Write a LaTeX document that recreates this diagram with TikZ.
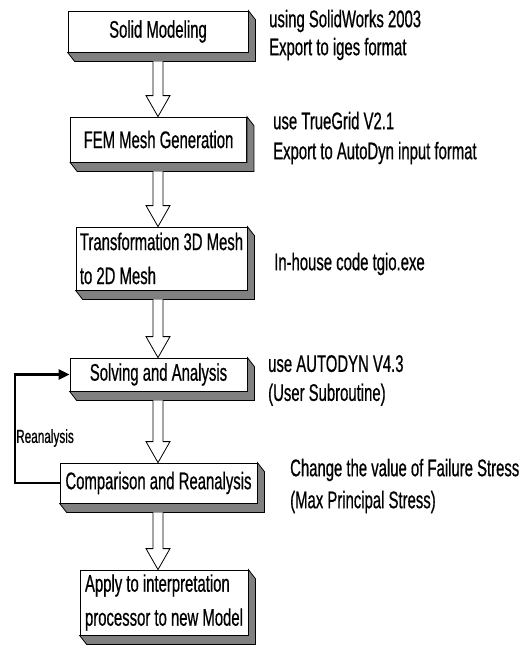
\documentclass[tikz,border=0pt]{standalone}
\usepackage{fontspec}
\setmainfont{Liberation Sans}[FakeStretch=0.62,FakeBold=0.6]
\usetikzlibrary{calc,arrows.meta}

% extruded side and bottom faces of a stage box
\newcommand\drawdepth[1]{%
  \draw[depthface] (#1.south west) -- (#1.south east) -- (#1.north east)
    -- ++(7,9) -- ($(#1.south east)+(7,9)$) -- ($(#1.south west)+(7,9)$) -- cycle;}

% hollow block arrow from the bottom of one stage to the top of the next
\newcommand\flowarrow[2]{%
  \draw[hollowarrow] let \p1=($(#1.south)+(0,9)$), \p2=(#2.north -| axis) in
    (\x2-5pt,\y1) -- (\x2-5pt,\y2+21pt) -- (\x2-12pt,\y2+21pt) -- (\x2,\y2)
    -- (\x2+12pt,\y2+21pt) -- (\x2+5pt,\y2+21pt) -- (\x2+5pt,\y1);}

\begin{document}
\begin{tikzpicture}[x=1pt,y=-1pt,
  stage/.style={draw=black, line width=0.8pt, fill=white, inner sep=0pt,
    align=left, font=\fontsize{24}{34}\selectfont},
  depthface/.style={draw=black, line width=0.8pt, fill=black!50, line join=miter},
  hollowarrow/.style={draw=black, line width=0.8pt, fill=white},
  note/.style={anchor=west, inner sep=0pt, align=left},
  feedback/.style={draw=black, line width=2.2pt, -{Triangle[length=11pt,width=10pt]}},
]
\useasboundingbox (0,0) rectangle (529,645);
\fill[white] (0,0) rectangle (529,645);

\coordinate (axis) at (158,0);

% stages
\node[stage, minimum width=180pt, minimum height=41pt] (b1) at (158,31.5) {Solid Modeling};
\node[stage, minimum width=176pt, minimum height=45pt] (b2) at (158.5,139.5) {FEM Mesh Generation};
\node[stage, minimum width=171pt, minimum height=63pt] (b3) at (161.5,258.5) {Transformation 3D Mesh\\to 2D Mesh};
\node[stage, minimum width=177pt, minimum height=33pt] (b4) at (158.5,374.5) {Solving and Analysis};
\node[stage, minimum width=197pt, minimum height=40pt] (b5) at (158.5,483) {Comparison and Reanalysis};
\node[stage, minimum width=168pt, minimum height=65pt] (b6) at (164,602.5) {Apply to interpretation\\processor to new Model};

\foreach \b in {b1,b2,b3,b4,b5,b6} {\drawdepth{\b}}

% flow between stages
\flowarrow{b1}{b2}
\flowarrow{b2}{b3}
\flowarrow{b3}{b4}
\flowarrow{b4}{b5}
\flowarrow{b5}{b6}

% feedback loop
\coordinate (loopx) at (15,430);
\draw[feedback] (b5.west) -| (loopx) |- (b4.west);
\node[anchor=west, inner sep=0pt, font=\fontsize{19}{22}\selectfont] (relabel) at (16,438) {Reanalysis};

% side notes
\node[note, font=\fontsize{24}{28}\selectfont] (n1) at (269,35) {using SolidWorks 2003\\Export to iges format};
\node[note, font=\fontsize{24}{30}\selectfont] (n2) at (273,138) {use TrueGrid V2.1\\Export to AutoDyn input format};
\node[note, font=\fontsize{24}{29}\selectfont] (n3) at (274,264) {In-house code tgio.exe};
\node[note, font=\fontsize{24}{29}\selectfont] (n4) at (268,380.5) {use AUTODYN V4.3\\(User Subroutine)};
\node[note, font=\fontsize{24}{32}\selectfont] (n5) at (290,486) {Change the value of Failure Stress\\(Max Principal Stress)};
\end{tikzpicture}
\end{document}
